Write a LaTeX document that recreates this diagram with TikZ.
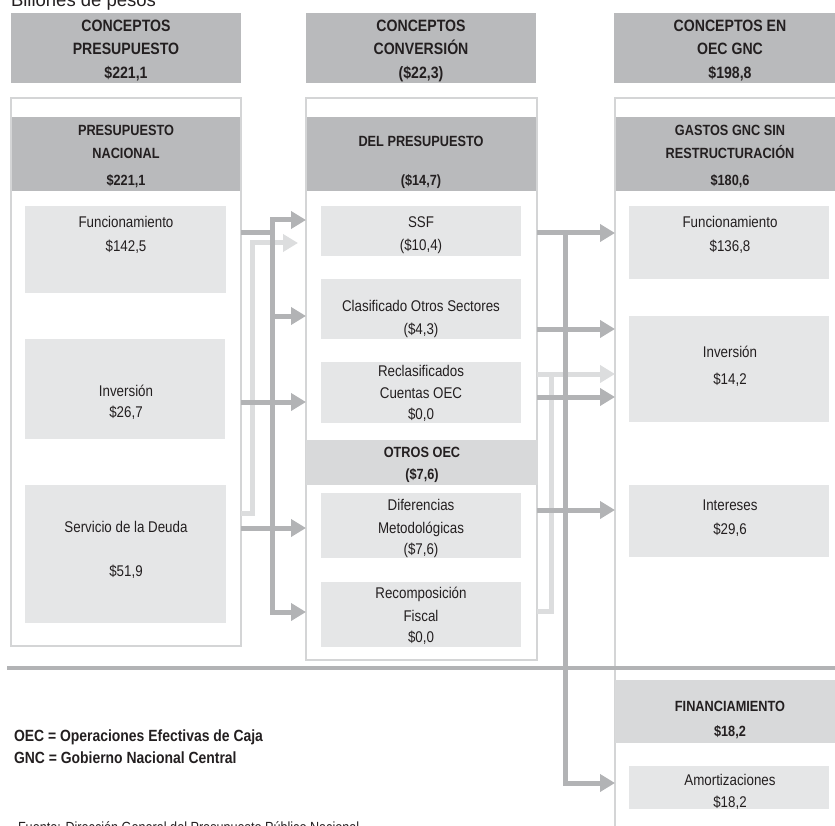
\documentclass[tikz,border=0pt]{standalone}
\usepackage{fontspec}
\setmainfont{Liberation Sans}[FakeStretch=0.86]
\newfontfamily\widesans{Liberation Sans}
\usetikzlibrary{arrows.meta}
\definecolor{hdrgray}{RGB}{185,186,188}
\definecolor{bandgray}{RGB}{216,217,218}
\definecolor{boxgray}{RGB}{229,230,231}
\definecolor{framegray}{RGB}{212,213,214}
\definecolor{darrgray}{RGB}{178,179,181}
\definecolor{larrgray}{RGB}{220,221,222}
\definecolor{ink}{RGB}{35,31,32}
\begin{document}
\begin{tikzpicture}[x=1pt,y=-1pt,
  every node/.style={inner sep=0pt,outer sep=0pt,text=ink},
  >={Triangle[length=15pt,width=17pt]},
  hdr/.style={fill=hdrgray,anchor=north west},
  band/.style={fill=bandgray,anchor=north west},
  cell/.style={fill=boxgray,anchor=north west},
  frame/.style={draw=framegray,line width=2pt,anchor=north west},
  ttl/.style={align=center,font=\fontsize{16.4}{23.5}\selectfont\bfseries},
  sub/.style={align=center,font=\fontsize{14.8}{23.5}\selectfont\bfseries},
  txt/.style={align=center,font=\fontsize{15.5}{23.5}\selectfont},
  leg/.style={anchor=base west,font=\fontsize{16.2}{22}\selectfont\bfseries},
  dline/.style={draw=darrgray,line width=5pt},
  lline/.style={draw=larrgray,line width=5pt},
  darr/.style={dline,->},
  larr/.style={lline,->}]
\useasboundingbox (0,0) rectangle (835,826);

% headers
\node[hdr,minimum width=230pt,minimum height=70pt] (hPres) at (11,13) {};
\node[hdr,minimum width=230pt,minimum height=70pt] (hConv) at (306,13) {};
\node[hdr,minimum width=232pt,minimum height=70pt] (hOec) at (614,13) {};

% frames
\node[frame,minimum width=230pt,minimum height=548pt] (fPres) at (11,98) {};
\node[frame,minimum width=231pt,minimum height=562pt] (fConv) at (306,98) {};
\node[frame,minimum width=240pt,minimum height=745pt] (fOec) at (615,98) {};

% bands
\node[hdr,minimum width=228pt,minimum height=74pt] (bPres) at (12,117) {};
\node[hdr,minimum width=229pt,minimum height=74pt] (bConv) at (307,117) {};
\node[hdr,minimum width=230pt,minimum height=74pt] (bOec) at (616,117) {};
\node[band,minimum width=232pt,minimum height=45pt] (bOtros) at (306,440) {};
\node[band,minimum width=231pt,minimum height=63pt] (bFin) at (615,680) {};

% cells
\node[cell,minimum width=201pt,minimum height=87pt] (cFunP) at (25,206) {};
\node[cell,minimum width=200pt,minimum height=100pt] (cInvP) at (25,339) {};
\node[cell,minimum width=201pt,minimum height=138pt] (cSerP) at (25,485) {};
\node[cell,minimum width=200pt,minimum height=50pt] (cSsf) at (321,206) {};
\node[cell,minimum width=200pt,minimum height=60pt] (cCla) at (321,279) {};
\node[cell,minimum width=200pt,minimum height=61pt] (cRec) at (321,362) {};
\node[cell,minimum width=200pt,minimum height=65pt] (cDif) at (321,493) {};
\node[cell,minimum width=200pt,minimum height=65pt] (cRecom) at (321,582) {};
\node[cell,minimum width=200pt,minimum height=73pt] (cFunO) at (629,206) {};
\node[cell,minimum width=200pt,minimum height=106pt] (cInvO) at (629,316) {};
\node[cell,minimum width=200pt,minimum height=72pt] (cInt) at (629,485) {};
\node[cell,minimum width=200pt,minimum height=43pt] (cAmo) at (629,766) {};

\draw[darrgray,line width=3.5pt] (7,668) -- (840,668);

% left connectors
\coordinate (jLtop) at (272,220);
\coordinate (jLbot) at (272,612);
\draw[larr,shorten >=8pt] (fPres.east |- 0,513) -| (252,243) -- (fConv.west |- 0,243);
\draw[dline] (fPres.east |- 0,233) -- (jLtop |- 0,233);
\draw[dline,<->] (fConv.west |- jLtop) -- (jLtop) -- (jLbot) -- (fConv.west |- jLbot);
\draw[darr] (jLtop |- 0,316) -- (fConv.west |- 0,316);
\draw[darr] (fPres.east |- 0,402) -- (fConv.west |- 0,402);
\draw[darr] (fPres.east |- 0,528) -- (fConv.west |- 0,528);

% right connectors
\coordinate (jRtop) at (565,233);
\coordinate (jRbot) at (565,783);
\draw[larr] (fConv.east |- 0,611) -| (551,374) -- (fOec.west |- 0,374);
\draw[lline] (fConv.east |- 0,374) -- (551,374);
\draw[darr] (fConv.east |- jRtop) -- (fOec.west |- jRtop);
\draw[darr] (jRtop) -- (jRbot) -- (fOec.west |- jRbot);
\draw[darr] (fConv.east |- 0,329) -- (fOec.west |- 0,329);
\draw[darr] (fConv.east |- 0,397) -- (fOec.west |- 0,397);
\draw[darr] (fConv.east |- 0,510) -- (fOec.west |- 0,510);

% texts
\node[anchor=base west,font=\widesans\fontsize{18.5}{20}\selectfont] (tUnit) at (11,7) {Billones de pesos};
\node[ttl] (tPres) at (126,50.5) {CONCEPTOS\\PRESUPUESTO\\\$221,1};
\node[ttl] (tConv) at (421,50.5) {CONCEPTOS\\CONVERSIÓN\\(\$22,3)};
\node[ttl] (tOec) at (730,50.5) {CONCEPTOS EN\\OEC GNC\\\$198,8};
\node[sub] (tPresN) at (126,156) {PRESUPUESTO\\NACIONAL\\[3pt]\$221,1};
\node[sub] (tConvD) at (421,162.5) {DEL PRESUPUESTO\\[15.5pt](\$14,7)};
\node[sub] (tOecG) at (730,156) {GASTOS GNC SIN\\RESTRUCTURACIÓN\\[3pt]\$180,6};
\node[sub] (tOtros) at (422,465) {OTROS OEC\\[-1.5pt](\$7,6)};
\node[sub] (tFin) at (730,719.5) {FINANCIAMIENTO\\[1.5pt]\$18,2};
\node[txt] (tFunP) at (126,235) {Funcionamiento\\\$142,5};
\node[txt] (tInvP) at (126,402.5) {Inversión\\[-2.5pt]\$26,7};
\node[txt] (tSerP) at (126,550) {Servicio de la Deuda\\[20.5pt]\$51,9};
\node[txt] (tSsf) at (421,235) {SSF\\(\$10,4)};
\node[txt] (tCla) at (421,319) {Clasificado Otros Sectores\\(\$4,3)};
\node[txt] (tRec) at (421,393.5) {Reclasificados\\[-1.5pt]Cuentas OEC\\[-3pt]\$0,0};
\node[txt] (tDif) at (421,528) {Diferencias\\[-0.5pt]Metodológicas\\[-2.5pt](\$7,6)};
\node[txt] (tRecom) at (421,616) {Recomposición\\[-0.5pt]Fiscal\\[-2.5pt]\$0,0};
\node[txt] (tFunO) at (730,235) {Funcionamiento\\\$136,8};
\node[txt] (tInvO) at (730,366.5) {Inversión\\[3.5pt]\$14,2};
\node[txt] (tInt) at (730,518) {Intereses\\\$29,6};
\node[txt] (tAmo) at (730,792) {Amortizaciones\\[-1.5pt]\$18,2};
\node[leg] (tLegOec) at (14,741) {OEC = Operaciones Efectivas de Caja};
\node[leg] (tLegGnc) at (14,763) {GNC = Gobierno Nacional Central};
\node[anchor=base west,font=\fontsize{14.7}{16}\selectfont] (tSrc) at (18,832.5) {Fuente: Dirección General del Presupuesto Público Nacional};
\end{tikzpicture}
\end{document}
